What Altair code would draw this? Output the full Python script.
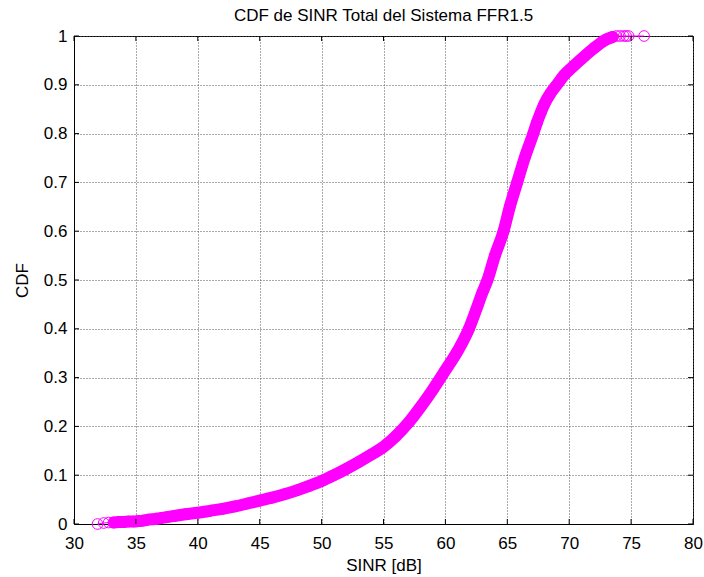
import altair as alt
import pandas as pd

# values
sinr = [31.9, 32.4, 32.8, 33.2, 33.6, 34.0, 34.4, 34.8, 35.2, 35.6,
        36.0, 36.5, 37.0, 37.5, 38.0, 39.0, 40.0, 41.0, 42.0, 43.0,
        44.0, 45.0, 46.0, 47.0, 48.0, 49.0, 50.0, 51.0, 52.0, 53.0,
        54.0, 55.0, 56.0, 57.0, 58.0, 59.0, 60.0, 61.0, 61.9, 62.5,
        63.0, 63.4, 64.0, 64.7, 65.2, 65.8, 66.4, 67.1, 67.4, 67.7,
        68.0, 68.5, 69.0, 69.6, 70.3, 71.3, 72.0, 72.5, 73.0, 73.5,
        73.8, 74.1, 74.4, 74.6, 74.8, 76.05]
cdf = [0.000, 0.002, 0.003, 0.003, 0.004, 0.004, 0.005, 0.005, 0.006, 0.007,
       0.009, 0.010, 0.012, 0.014, 0.016, 0.020, 0.023, 0.027, 0.031, 0.036,
       0.042, 0.048, 0.054, 0.061, 0.069, 0.078, 0.088, 0.100, 0.113, 0.127,
       0.142, 0.158, 0.180, 0.207, 0.240, 0.276, 0.315, 0.355, 0.400, 0.440,
       0.475, 0.500, 0.550, 0.600, 0.650, 0.700, 0.750, 0.800, 0.823, 0.843,
       0.861, 0.883, 0.900, 0.920, 0.937, 0.960, 0.975, 0.985, 0.993, 0.998,
       1.000, 1.000, 1.000, 1.000, 1.000, 1.000]
x_ticks = [30, 35, 40, 45, 50, 55, 60, 65, 70, 75, 80]
y_ticks = [0, 0.1, 0.2, 0.3, 0.4, 0.5, 0.6, 0.7, 0.8, 0.9, 1]

df = pd.DataFrame({"sinr": sinr, "cdf": cdf, "idx": list(range(len(sinr)))})
xt = pd.DataFrame({"v": x_ticks})
yt = pd.DataFrame({"v": y_ticks})

W, H = 619, 488
MAG = "#FF00FF"
FONT = "Liberation Sans"
FS = 17

xs = alt.Scale(domain=[30, 80], nice=False, zero=False)
ys = alt.Scale(domain=[0, 1], nice=False, zero=False)

xenc = alt.X("sinr:Q", scale=xs, title="SINR [dB]",
             axis=alt.Axis(values=x_ticks, grid=True, tickSize=0, labelPadding=11,
                           titlePadding=6, format="d", labelFlush=False))
yenc = alt.Y("cdf:Q", scale=ys, title="CDF",
             axis=alt.Axis(values=y_ticks, grid=True, tickSize=0, labelPadding=7,
                           titlePadding=12, format="~g", labelFlush=False))

base = alt.Chart(df)

band = base.mark_line(color=MAG, strokeWidth=12, strokeCap="round",
                      strokeJoin="round", interpolate="monotone").encode(
    x=xenc, y=yenc, order="idx:Q"
).transform_filter("datum.sinr >= 33.0 && datum.sinr <= 73.6")

thin = base.mark_line(color=MAG, strokeWidth=1).encode(
    x=alt.X("sinr:Q", scale=xs), y=alt.Y("cdf:Q", scale=ys), order="idx:Q"
)

pts = base.mark_point(shape="circle", filled=False, color=MAG, size=113,
                      strokeWidth=1, opacity=1).encode(
    x=alt.X("sinr:Q", scale=xs), y=alt.Y("cdf:Q", scale=ys)
)

tick_style = dict(color="black", strokeWidth=1)
tb = alt.Chart(xt).mark_rule(**tick_style).encode(
    x=alt.X("v:Q", scale=xs), y=alt.value(H), y2=alt.value(H - 5))
tt = alt.Chart(xt).mark_rule(**tick_style).encode(
    x=alt.X("v:Q", scale=xs), y=alt.value(0), y2=alt.value(5))
tl = alt.Chart(yt).mark_rule(**tick_style).encode(
    y=alt.Y("v:Q", scale=ys), x=alt.value(0), x2=alt.value(5))
tr = alt.Chart(yt).mark_rule(**tick_style).encode(
    y=alt.Y("v:Q", scale=ys), x=alt.value(W), x2=alt.value(W - 5))

chart = alt.layer(band, thin, pts, tb, tt, tl, tr).properties(
    width=W, height=H,
    title=alt.Title("CDF de SINR Total del Sistema FFR1.5", font=FONT, fontSize=FS,
                    fontWeight="normal", color="black", anchor="middle", offset=2),
    autosize=alt.AutoSizeParams(type="none"),
    padding={"left": 74, "top": 36, "right": 11, "bottom": 53},
    background="white",
).configure_view(
    stroke="black", strokeWidth=1
).configure_axis(
    domainColor="black", domainWidth=1,
    labelFont=FONT, labelFontSize=FS, labelColor="black",
    titleFont=FONT, titleFontSize=FS, titleFontWeight="normal", titleColor="black",
    gridColor="#555555", gridDash=[1, 2], gridWidth=1, gridOpacity=1,
)

chart.save("out.html", embed_options={"renderer": "svg", "actions": False})
